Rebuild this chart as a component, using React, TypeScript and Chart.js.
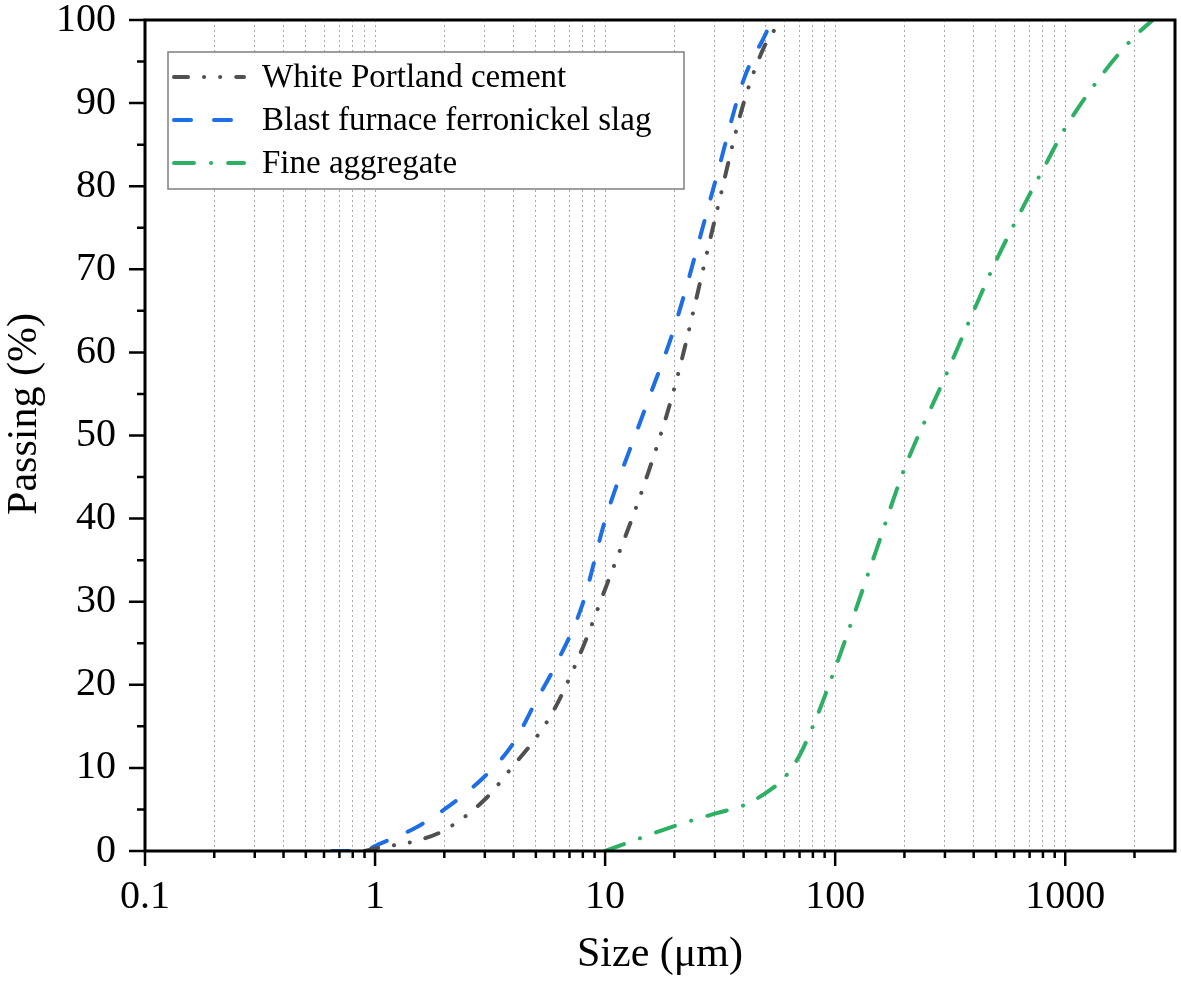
import React, { useEffect, useRef } from 'react';
import { Chart, registerables } from 'chart.js';

Chart.register(...registerables);

const FONT = "'Liberation Serif', 'Times New Roman', serif";

// ---- data ----
const cementSize = [0.9, 1, 1.5, 2, 3, 4, 5, 6, 8, 10, 15, 20, 30, 40, 50, 59];
const cementPassing = [0, 0.3, 1.2, 2.5, 6.2, 10.3, 13.6, 17, 24.5, 31.5, 44.6, 55.7, 76, 90, 97.2, 100];

const slagSize = [0.65, 0.9, 1, 1.5, 2, 3, 4, 5, 6, 8, 10, 15, 20, 30, 40, 50, 53];
const slagPassing = [0, 0, 0.6, 2.8, 5, 9, 13, 18, 22, 29.8, 39.8, 53.4, 63, 80.4, 92.8, 98.4, 100];

const aggSize = [10, 20, 30, 40, 50, 60, 70, 80, 100, 150, 200, 300, 400, 500, 700, 800, 1000, 1500, 2000, 2400];
const aggPassing = [0, 3, 4.5, 5.5, 7, 8.8, 11.5, 15, 22, 36, 46, 57, 65, 71, 79, 82, 87, 94, 98, 100];

const seriesLabels = ['White Portland cement', 'Blast furnace ferronickel slag', 'Fine aggregate'];

// ---- axes ----
const X_MIN = 0.1;
const X_MAX = 3000;
const xTicks = [
  0.1, 0.2, 0.3, 0.4, 0.5, 0.6, 0.7, 0.8, 0.9,
  1, 2, 3, 4, 5, 6, 7, 8, 9,
  10, 20, 30, 40, 50, 60, 70, 80, 90,
  100, 200, 300, 400, 500, 600, 700, 800, 900,
  1000, 2000,
];
const xMajor = [0.1, 1, 10, 100, 1000];
const xMajorLabels = ['0.1', '1', '10', '100', '1000'];

const Y_MIN = 0;
const Y_MAX = 100;
const yTicks = [0, 5, 10, 15, 20, 25, 30, 35, 40, 45, 50, 55, 60, 65, 70, 75, 80, 85, 90, 95, 100];
const yMajor = [0, 10, 20, 30, 40, 50, 60, 70, 80, 90, 100];
const yMajorLabels = ['0', '10', '20', '30', '40', '50', '60', '70', '80', '90', '100'];

const xTitle = 'Size (μm)';
const yTitle = 'Passing (%)';

const toPoints = (xs: number[], ys: number[]) => xs.map((x, i) => ({ x, y: ys[i] }));

const overlay = {
  id: 'overlay',
  afterDraw(chart: any) {
    const { ctx, chartArea } = chart;
    const { left, right, top, bottom } = chartArea;
    const xs = chart.scales.x;
    const ys = chart.scales.y;
    ctx.save();

    // tick marks (outward)
    ctx.strokeStyle = '#000';
    ctx.lineWidth = 2.5;
    ctx.lineCap = 'butt';
    ctx.setLineDash([]);
    ctx.beginPath();
    for (const t of xs.ticks) {
      if (t.value >= X_MAX) continue;
      const px = xs.getPixelForValue(t.value);
      const len = xMajor.includes(t.value) ? 15 : 7;
      ctx.moveTo(px, bottom);
      ctx.lineTo(px, bottom + len);
    }
    for (const t of ys.ticks) {
      const py = ys.getPixelForValue(t.value);
      const len = yMajor.includes(t.value) ? 16 : 8;
      ctx.moveTo(left, py);
      ctx.lineTo(left - len, py);
    }
    ctx.stroke();

    // frame
    ctx.lineWidth = 3;
    ctx.strokeRect(left, top, right - left, bottom - top);

    // y title
    ctx.save();
    ctx.translate(36, top + 394);
    ctx.rotate(-Math.PI / 2);
    ctx.fillStyle = '#000';
    ctx.font = `42px ${FONT}`;
    ctx.textAlign = 'center';
    ctx.textBaseline = 'alphabetic';
    ctx.fillText(yTitle, 0, 0);
    ctx.restore();

    // legend inside the plot
    const bx = left + 23;
    const by = top + 32;
    const bw = 516;
    const bh = 137;
    ctx.fillStyle = '#fff';
    ctx.fillRect(bx, by, bw, bh);
    ctx.strokeStyle = '#7f7f7f';
    ctx.lineWidth = 1.5;
    ctx.strokeRect(bx, by, bw, bh);
    chart.data.datasets.forEach((ds: any, i: number) => {
      const yy = by + 25 + i * 43;
      ctx.save();
      ctx.strokeStyle = ds.borderColor;
      ctx.lineWidth = 4;
      ctx.lineCap = 'round';
      ctx.setLineDash(ds.borderDash || []);
      ctx.beginPath();
      ctx.moveTo(bx + 6, yy);
      ctx.lineTo(bx + 76, yy);
      ctx.stroke();
      ctx.restore();
      ctx.fillStyle = '#000';
      ctx.font = `33px ${FONT}`;
      ctx.textAlign = 'left';
      ctx.textBaseline = 'middle';
      ctx.fillText(ds.label, bx + 94, yy + 1);
    });

    ctx.restore();
  },
};

export default function App() {
  const ref = useRef<HTMLCanvasElement>(null);

  useEffect(() => {
    document.body.style.margin = '0';
    Chart.defaults.font.family = FONT;
    const common = {
      borderWidth: 4,
      pointRadius: 0,
      pointHoverRadius: 0,
      fill: false,
      cubicInterpolationMode: 'monotone' as const,
      borderCapStyle: 'round' as const,
    };
    const chart = new Chart(ref.current as HTMLCanvasElement, {
      type: 'line',
      data: {
        datasets: [
          {
            ...common,
            label: seriesLabels[0],
            data: toPoints(cementSize, cementPassing),
            borderColor: 'rgb(80,80,80)',
            borderDash: [14, 16, 0.1, 16, 0.1, 16],
          },
          {
            ...common,
            label: seriesLabels[1],
            data: toPoints(slagSize, slagPassing),
            borderColor: 'rgb(30,110,230)',
            borderDash: [17, 23],
          },
          {
            ...common,
            label: seriesLabels[2],
            data: toPoints(aggSize, aggPassing),
            borderColor: 'rgb(45,175,100)',
            borderDash: [20, 17, 0.1, 17],
          },
        ],
      },
      options: {
        responsive: false,
        animation: false,
        events: [],
        layout: { padding: { top: 20, right: 6, left: 0, bottom: 0 }, autoPadding: false },
        plugins: {
          legend: { display: false },
          tooltip: { enabled: false },
        },
        scales: {
          x: {
            type: 'logarithmic',
            min: X_MIN,
            max: X_MAX,
            afterBuildTicks: (s: any) => {
              s.ticks = xTicks.map((v) => ({ value: v }));
            },
            afterFit: (s: any) => {
              s.height = 133;
              s.paddingLeft = 0;
              s.paddingRight = 0;
            },
            ticks: {
              autoSkip: false,
              maxRotation: 0,
              minRotation: 0,
              padding: 22,
              color: '#000',
              font: { family: FONT, size: 40 },
              callback: (v: any) => {
                const i = xMajor.indexOf(Number(v));
                return i >= 0 ? xMajorLabels[i] : '';
              },
            },
            grid: { display: true, drawTicks: false, color: 'rgba(0,0,0,0.34)', lineWidth: 1 },
            border: { display: false, dash: [2, 3] },
            title: {
              display: true,
              text: xTitle,
              color: '#000',
              font: { family: FONT, size: 42 },
              padding: { top: 0, bottom: 4 },
            },
          },
          y: {
            type: 'linear',
            min: Y_MIN,
            max: Y_MAX,
            afterBuildTicks: (s: any) => {
              s.ticks = yTicks.map((v) => ({ value: v }));
            },
            afterFit: (s: any) => {
              s.width = 145;
              s.paddingTop = 0;
              s.paddingBottom = 0;
            },
            ticks: {
              autoSkip: false,
              padding: 29,
              color: '#000',
              font: { family: FONT, size: 40 },
              callback: (v: any) => {
                const i = yMajor.indexOf(Number(v));
                return i >= 0 ? yMajorLabels[i] : '';
              },
            },
            grid: { display: false, drawTicks: false },
            border: { display: false },
          },
        },
      },
      plugins: [overlay],
    } as any);
    return () => chart.destroy();
  }, []);

  return (
    <div style={{ width: 1181, height: 984, background: '#fff' }}>
      <canvas ref={ref} width={1181} height={984} style={{ display: 'block' }} />
    </div>
  );
}
